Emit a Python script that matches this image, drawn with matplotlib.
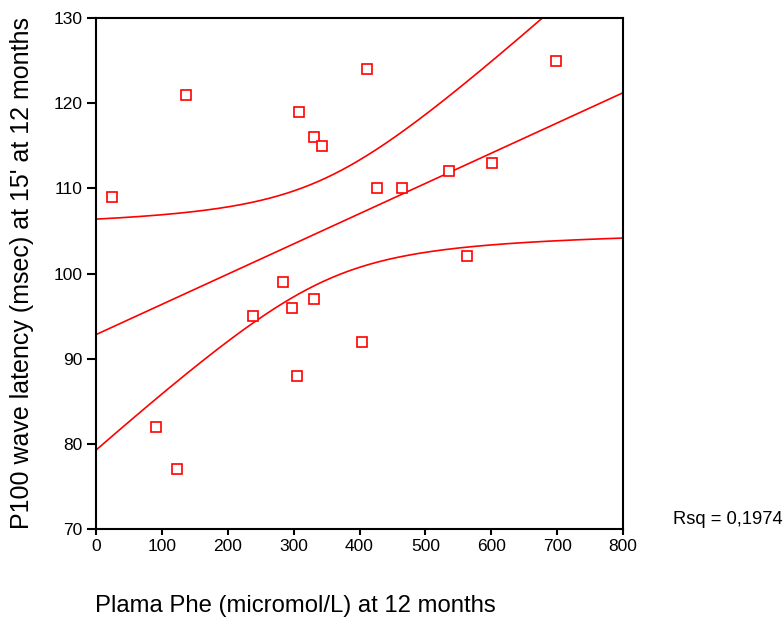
import numpy as np
import matplotlib
matplotlib.use("Agg")
import matplotlib.pyplot as plt

plt.rcParams["font.family"] = ["Liberation Sans", "DejaVu Sans"]

# data
phe = [25, 137, 91, 123, 238, 284, 297, 305, 308, 331,
       343, 331, 411, 404, 426, 464, 536, 563, 601, 698]
latency = [109, 121, 82, 77, 95, 99, 96, 88, 119, 116,
           115, 97, 124, 92, 110, 110, 112, 102, 113, 125]

RED = "#ff0000"

fig = plt.figure(figsize=(7.84, 6.2), dpi=100, facecolor="white")
ax = fig.add_axes([96/784, 1 - 529/620, (623 - 96)/784, (529 - 18)/620])

x = np.array(phe, float)
y = np.array(latency, float)
n = len(x)
slope, intercept = np.polyfit(x, y, 1)
resid = y - (intercept + slope * x)
s = np.sqrt(np.sum(resid**2) / (n - 2))
sxx = np.sum((x - x.mean())**2)
t = 2.101  # t(0.975, 18)

xs = np.linspace(0, 800, 400)
fit = intercept + slope * xs
half = t * s * np.sqrt(1/n + (xs - x.mean())**2 / sxx)

# fit line and 95% mean confidence band
ax.plot(xs, fit, color=RED, lw=1.2, zorder=2)
ax.plot(xs, fit + half, color=RED, lw=1.2, zorder=2)
ax.plot(xs, fit - half, color=RED, lw=1.2, zorder=2)

ax.plot(x, y, ls="none", marker="s", ms=6.5, mfc="white", mec=RED,
        mew=1.2, zorder=3, clip_on=False)

ax.set_xlim(0, 800)
ax.set_ylim(70, 130)
ax.set_xticks(np.arange(0, 801, 100))
ax.set_yticks(np.arange(70, 131, 10))
for sp in ax.spines.values():
    sp.set_linewidth(1.5)
ax.tick_params(axis="y", direction="out", length=6.5, width=1.5,
               labelsize=12.5, pad=3)
ax.tick_params(axis="x", direction="out", length=4, width=1.5,
               labelsize=12.5, pad=3.5)

fig.text(22/784, 1 - 273/620, "P100 wave latency (msec) at 15' at 12 months",
         rotation=90, ha="center", va="center", fontsize=18)
fig.text(95/784, 1 - 606/620, "Plama Phe (micromol/L) at 12 months",
         ha="left", va="center", fontsize=17.2)
fig.text(673/784, 1 - 520/620, "Rsq = 0,1974", ha="left", va="center",
         fontsize=13.2)

fig.savefig("out.png", dpi=100, facecolor="white")
